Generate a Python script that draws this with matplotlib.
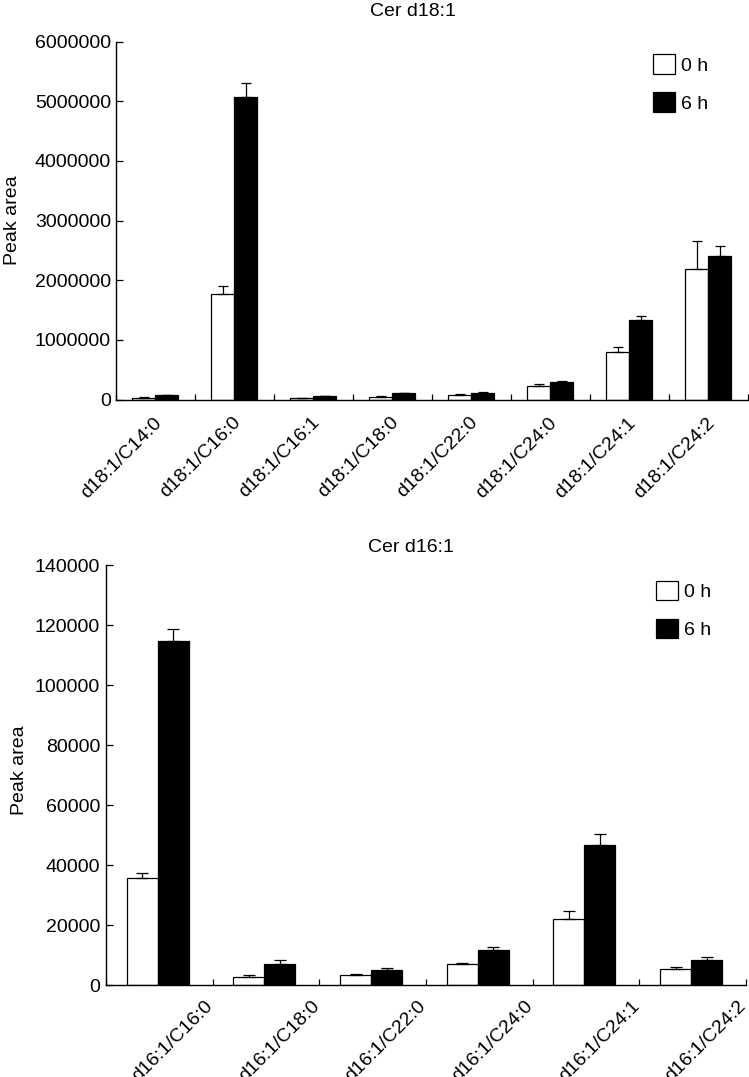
import matplotlib
matplotlib.use('Agg')
import matplotlib.pyplot as plt
import numpy as np

plt.rcParams['font.family'] = ['Liberation Sans', 'DejaVu Sans']

# ---------------- data ----------------
top_title = 'Cer d18:1'
top_categories = ['d18:1/C14:0', 'd18:1/C16:0', 'd18:1/C16:1', 'd18:1/C18:0',
                  'd18:1/C22:0', 'd18:1/C24:0', 'd18:1/C24:1', 'd18:1/C24:2']
top_0h = [30000, 1770000, 25000, 47000, 75000, 232000, 797000, 2195000]
top_0h_err = [5000, 140000, 4000, 8000, 10000, 28000, 89000, 470000]
top_6h = [75000, 5080000, 54000, 104000, 114000, 294000, 1334000, 2400000]
top_6h_err = [6000, 220000, 5000, 8000, 11000, 21000, 72000, 180000]
top_yticks = [0, 1000000, 2000000, 3000000, 4000000, 5000000, 6000000]

bot_title = 'Cer d16:1'
bot_categories = ['d16:1/C16:0', 'd16:1/C18:0', 'd16:1/C22:0',
                  'd16:1/C24:0', 'd16:1/C24:1', 'd16:1/C24:2']
bot_0h = [35600, 2900, 3400, 7000, 22200, 5500]
bot_0h_err = [1900, 400, 400, 500, 2400, 500]
bot_6h = [114700, 7000, 5200, 11700, 46800, 8400]
bot_6h_err = [4000, 1400, 400, 900, 3600, 900]
bot_yticks = [0, 20000, 40000, 60000, 80000, 100000, 120000, 140000]

series_labels = ['0 h', '6 h']

# ---------------- layout ----------------
W, H = 749, 1077
fig = plt.figure(figsize=(W / 100, H / 100), dpi=100)
FS = 14


def px_axes(l, t, r, b):
    return fig.add_axes([l / W, 1 - b / H, (r - l) / W, (b - t) / H])


def draw(ax, cats, v0, e0, v6, e6, yticks, split, capsize, label_offset,
         label_pad, ytick_pad, leg_xy, title, title_xy, ylabel_coords):
    n = len(cats)
    x = np.arange(n)
    bw = 0.29
    ax.bar(x + split, v0, width=-bw, align='edge', color='white',
           edgecolor='black', linewidth=0.9, label=series_labels[0], zorder=2)
    ax.bar(x + split, v6, width=bw, align='edge', color='black',
           edgecolor='black', linewidth=0.9, label=series_labels[1], zorder=2)
    ax.errorbar(x + split - bw / 2, v0, yerr=[np.zeros(n), e0], fmt='none',
                ecolor='black', elinewidth=0.9, capsize=capsize,
                capthick=0.9, zorder=3)
    ax.errorbar(x + split + bw / 2, v6, yerr=[np.zeros(n), e6], fmt='none',
                ecolor='black', elinewidth=0.9, capsize=capsize,
                capthick=0.9, zorder=3)
    ax.set_xlim(-0.5, n - 0.5)
    ax.set_ylim(yticks[0], yticks[-1])
    ax.set_yticks(yticks, labels=[str(t) for t in yticks])
    ax.set_xticks(x + label_offset, labels=cats)
    ax.set_xticks(np.arange(n + 1) - 0.5, minor=True)
    ax.tick_params(axis='x', which='major', length=0, pad=label_pad,
                   labelsize=FS)
    ax.tick_params(axis='x', which='minor', direction='in', length=4,
                   width=0.9)
    ax.tick_params(axis='y', direction='in', length=5, width=0.9,
                   pad=ytick_pad, labelsize=FS)
    for lab in ax.get_xticklabels():
        lab.set_rotation(45)
        lab.set_ha('right')
        lab.set_va('top')
        lab.set_rotation_mode('anchor')
    for s in ['top', 'right']:
        ax.spines[s].set_visible(False)
    for s in ['left', 'bottom']:
        ax.spines[s].set_linewidth(1.0)
    ax.set_ylabel('Peak area', fontsize=FS)
    ax.yaxis.set_label_coords(*ylabel_coords)
    ax.legend(loc='upper left', bbox_to_anchor=(leg_xy[0] / W, 1 - leg_xy[1] / H),
              bbox_transform=fig.transFigure, frameon=False, fontsize=FS,
              handlelength=1.15, handleheight=1.15, labelspacing=0.92,
              handletextpad=0.33, borderpad=0, borderaxespad=0)
    fig.text(title_xy[0] / W, 1 - title_xy[1] / H, title, ha='center',
             va='top', fontsize=FS)


ax1 = px_axes(115.7, 41.7, 747.7, 399.5)
draw(ax1, top_categories, top_0h, top_0h_err, top_6h, top_6h_err, top_yticks,
     split=0.0, capsize=3.8, label_offset=-0.03, label_pad=10.5, ytick_pad=3.4,
     leg_xy=(652.7, 54.3), title=top_title, title_xy=(413.3, 2.5),
     ylabel_coords=(-0.150, 0.5))

ax2 = px_axes(106, 565, 746, 985.3)
draw(ax2, bot_categories, bot_0h, bot_0h_err, bot_6h, bot_6h_err, bot_yticks,
     split=-0.015, capsize=4.3, label_offset=0.42, label_pad=8.5, ytick_pad=4.3,
     leg_xy=(655.7, 581), title=bot_title, title_xy=(411, 539),
     ylabel_coords=(-0.122, 0.512))

fig.savefig('out.png', dpi=100)
